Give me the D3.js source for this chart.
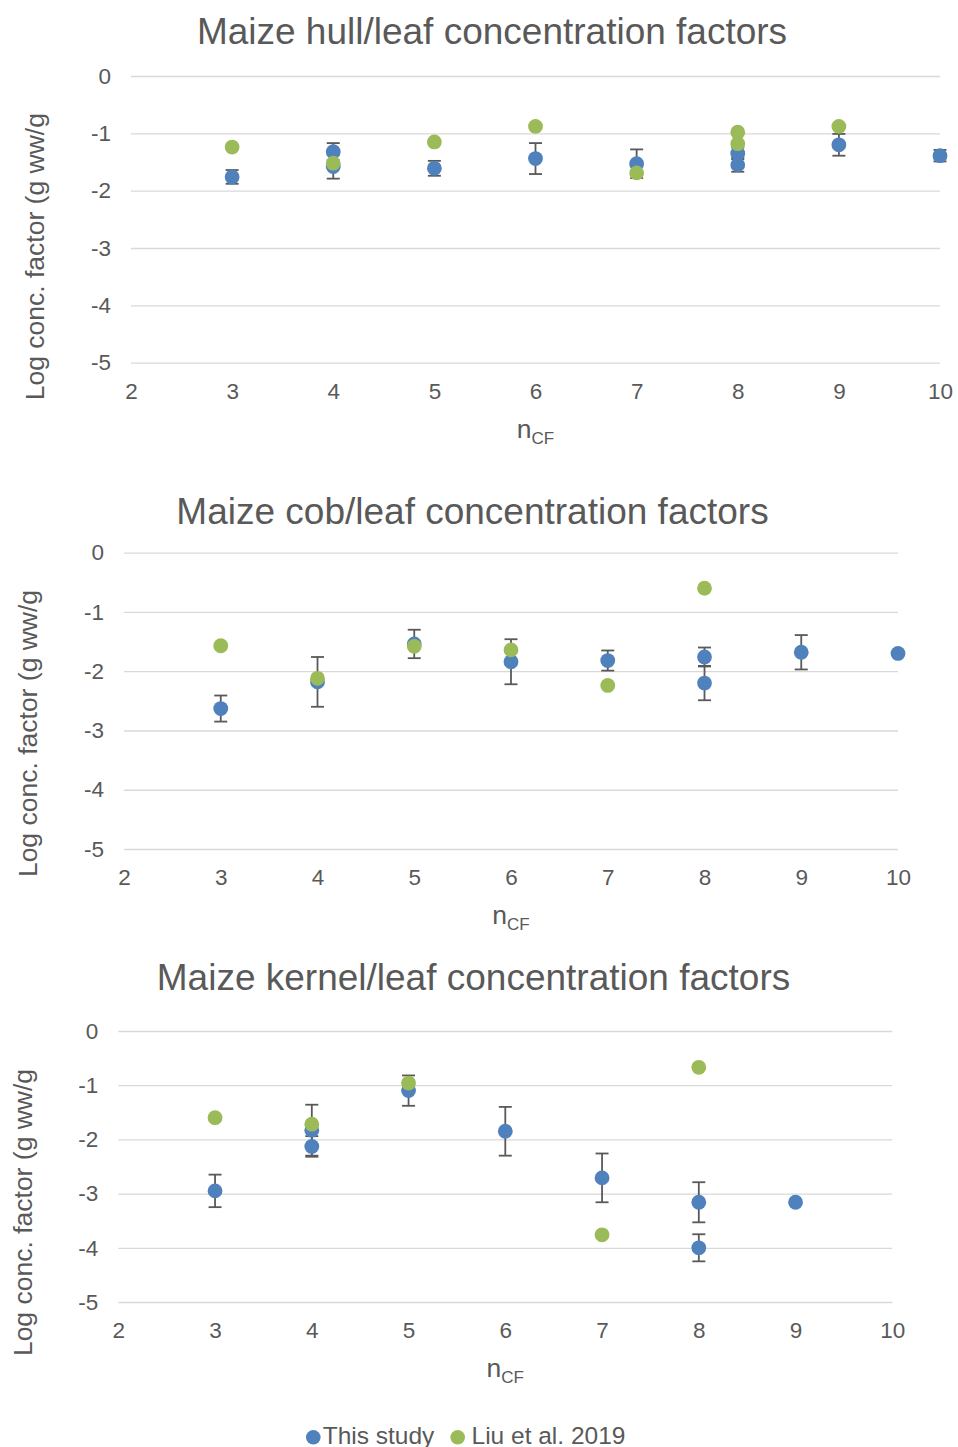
<!DOCTYPE html>
<html>
<head>
<meta charset="utf-8">
<script src="https://cdn.jsdelivr.net/npm/d3@7"></script>
<style>
  body { margin: 0; background: #fff; }
  text { font-family: "Liberation Sans", Arial, sans-serif; fill: #595959; }
</style>
</head>
<body>
<div id="chart"></div>
<script>
const width = 958;
const height = 1447;

// data: [nCF, log conc. factor, error]
const xTicks = [2, 3, 4, 5, 6, 7, 8, 9, 10];
const yTicks = [0, -1, -2, -3, -4, -5];
const seriesNames = ["This study", "Liu et al. 2019"];

const hullStudy = [
  [3, -1.76, 0.12], [4, -1.32, 0.15], [4, -1.58, 0.21], [5, -1.61, 0.13],
  [6, -1.44, 0.27], [7, -1.53, 0.25], [8, -1.35, 0.1], [8, -1.55, 0.12],
  [9, -1.2, 0.19], [10, -1.39, 0.1]
];
const hullLiu = [[3, -1.24], [4, -1.52], [5, -1.15], [6, -0.88], [7, -1.69], [8, -0.98], [8, -1.18], [9, -0.88]];

const cobStudy = [
  [3, -2.63, 0.22], [4, -2.18, 0.42], [5, -1.54, 0.24], [6, -1.84, 0.38],
  [7, -1.82, 0.17], [8, -1.76, 0.16], [8, -2.2, 0.29], [9, -1.68, 0.29], [10, -1.7, 0]
];
const cobLiu = [[3, -1.57], [4, -2.12], [5, -1.58], [6, -1.64], [7, -2.24], [8, -0.6]];

const kernelStudy = [
  [3, -2.95, 0.3], [4, -1.83, 0.47], [4, -2.13, 0.19], [5, -1.1, 0.28],
  [6, -1.85, 0.45], [7, -2.71, 0.45], [8, -3.16, 0.37], [8, -4.0, 0.25], [9, -3.16, 0]
];
const kernelLiu = [[3, -1.6], [4, -1.72], [5, -0.96], [7, -3.76], [8, -0.67]];

const blue = "#4F81BD";
const green = "#9BBB59";

const svg = d3.select("#chart")
  .append("svg")
  .attr("width", width)
  .attr("height", height);

/* one panel */
function drawPanel(p) {
  const xScale = d3.scaleLinear().domain([2, 10]).range([p.left, p.right]);
  const yScale = d3.scaleLinear().domain([0, -5]).range([p.top, p.bottom]);

  const g = svg.append("g");

  const yAxis = d3.axisLeft(yScale)
    .tickValues(yTicks)
    .tickFormat(d => String(d))
    .tickSize(-(p.right - p.left))
    .tickPadding(20);

  const gy = g.append("g")
    .attr("transform", "translate(" + p.left + ",0)")
    .call(yAxis);
  gy.select(".domain").remove();
  gy.selectAll("line").attr("stroke", "#D9D9D9").attr("stroke-width", 1.3);
  gy.selectAll("text").style("font-size", "22.5px").attr("fill", "#595959");

  const xAxis = d3.axisBottom(xScale)
    .tickValues(xTicks)
    .tickFormat(d => String(d))
    .tickSize(0)
    .tickPadding(20);

  const gx = g.append("g")
    .attr("transform", "translate(0," + p.bottom + ")")
    .call(xAxis);
  gx.select(".domain").remove();
  gx.selectAll("text").style("font-size", "22.5px").attr("fill", "#595959");

  // error bars
  const bars = g.selectAll(".err")
    .data(p.study.filter(d => d[2] > 0))
    .enter()
    .append("g")
    .attr("class", "err")
    .attr("stroke", "#595959")
    .attr("stroke-width", 1.8);

  bars.append("line")
    .attr("x1", d => xScale(d[0])).attr("x2", d => xScale(d[0]))
    .attr("y1", d => yScale(d[1] + d[2])).attr("y2", d => yScale(d[1] - d[2]));
  bars.append("line")
    .attr("x1", d => xScale(d[0]) - 6.5).attr("x2", d => xScale(d[0]) + 6.5)
    .attr("y1", d => yScale(d[1] + d[2])).attr("y2", d => yScale(d[1] + d[2]));
  bars.append("line")
    .attr("x1", d => xScale(d[0]) - 6.5).attr("x2", d => xScale(d[0]) + 6.5)
    .attr("y1", d => yScale(d[1] - d[2])).attr("y2", d => yScale(d[1] - d[2]));

  g.selectAll(".study")
    .data(p.study)
    .enter()
    .append("circle")
    .attr("class", "study")
    .attr("cx", d => xScale(d[0]))
    .attr("cy", d => yScale(d[1]))
    .attr("r", 7.4)
    .style("fill", blue);

  g.selectAll(".liu")
    .data(p.liu)
    .enter()
    .append("circle")
    .attr("class", "liu")
    .attr("cx", d => xScale(d[0]))
    .attr("cy", d => yScale(d[1]))
    .attr("r", 7.4)
    .style("fill", green);

  // title
  g.append("text")
    .attr("x", p.titleX)
    .attr("y", p.titleY)
    .attr("text-anchor", "middle")
    .style("font-size", "37px")
    .text(p.title);

  // y label
  g.append("text")
    .attr("transform", "translate(" + p.ylabX + "," + p.ylabY + ") rotate(-90)")
    .attr("text-anchor", "middle")
    .style("font-size", "26.5px")
    .text("Log conc. factor (g ww/g");

  // x label
  const xl = g.append("text")
    .attr("x", (p.left + p.right) / 2)
    .attr("y", p.bottom + 75)
    .attr("text-anchor", "middle")
    .style("font-size", "26.5px");
  xl.append("tspan").text("n");
  xl.append("tspan").attr("dy", 6).style("font-size", "17px").text("CF");
}

drawPanel({
  left: 131, right: 940, top: 76, bottom: 362.7,
  title: "Maize hull/leaf concentration factors", titleX: 492, titleY: 44,
  ylabX: 43.5, ylabY: 256.7,
  study: hullStudy, liu: hullLiu
});

drawPanel({
  left: 124, right: 898, top: 552.7, bottom: 849,
  title: "Maize cob/leaf concentration factors", titleX: 472.5, titleY: 524,
  ylabX: 37, ylabY: 733.5,
  study: cobStudy, liu: cobLiu
});

drawPanel({
  left: 118.3, right: 892.3, top: 1031, bottom: 1302,
  title: "Maize kernel/leaf concentration factors", titleX: 473.5, titleY: 990,
  ylabX: 31.7, ylabY: 1212.5,
  study: kernelStudy, liu: kernelLiu
});

/* legend */
const legend = svg.append("g");
const legendDotX = [313.3, 457.7];
const legendTextX = [322.7, 471.5];
const legendColors = [blue, green];
seriesNames.forEach(function(name, i) {
  legend.append("circle")
    .attr("cx", legendDotX[i])
    .attr("cy", 1437.3)
    .attr("r", 7.3)
    .style("fill", legendColors[i]);
  legend.append("text")
    .attr("x", legendTextX[i])
    .attr("y", 1443.5)
    .style("font-size", "24.5px")
    .text(name);
});
</script>
</body>
</html>
